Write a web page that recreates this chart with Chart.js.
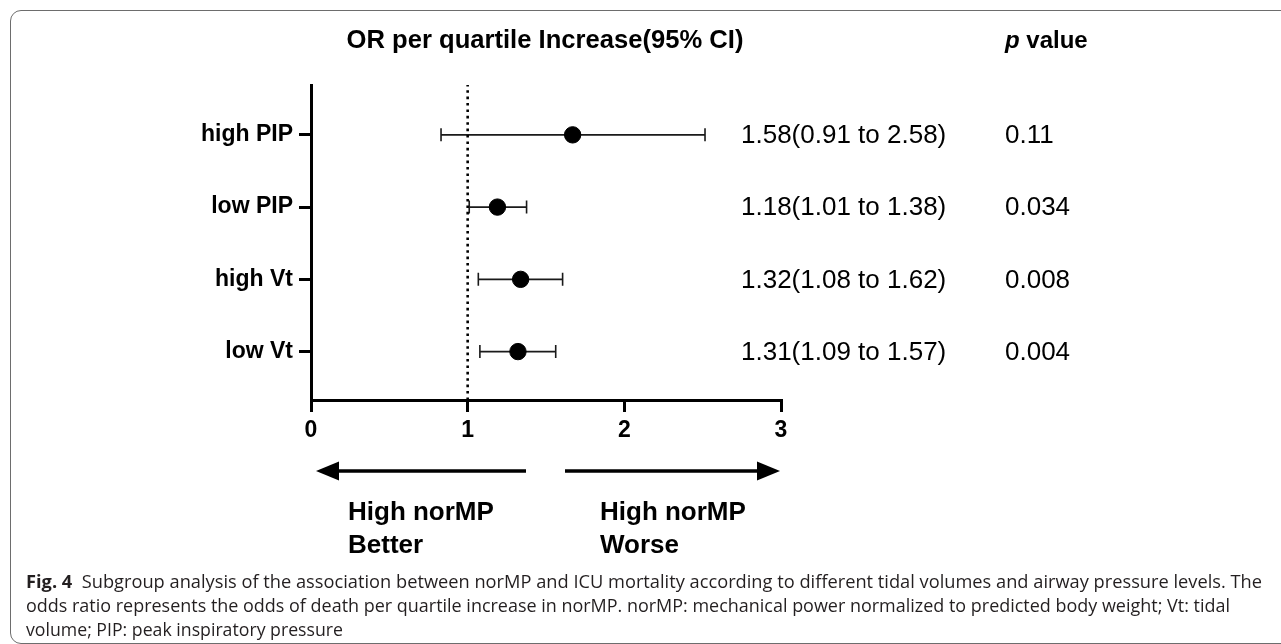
<!DOCTYPE html>
<html><head><meta charset="utf-8">
<script src="https://cdn.jsdelivr.net/npm/chart.js@4"></script>
<style>
html,body{margin:0;padding:0;background:#fff;width:1281px;height:644px;overflow:hidden;}
#frame{position:absolute;left:10px;top:10px;width:1320px;height:634px;border:1.5px solid #6d6d6d;border-radius:11px;box-sizing:border-box;}
#wrap{position:absolute;left:0;top:0;width:1281px;height:644px;}
#caption{position:absolute;left:26px;top:569px;font-family:"Open Sans",sans-serif;font-size:18px;color:#231f20;line-height:24px;}
.cl{white-space:nowrap;height:24px;}
.cl span{display:inline-block;transform-origin:0 50%;white-space:nowrap;}
</style></head>
<body>
<div id="frame"></div>
<div id="wrap"><canvas id="c" width="1281" height="644"></canvas></div>
<div id="caption">
<div class="cl"><span data-w="1236"><b>Fig. 4</b>&nbsp; Subgroup analysis of the association between norMP and ICU mortality according to different tidal volumes and airway pressure levels. The</span></div>
<div class="cl"><span data-w="1204">odds ratio represents the odds of death per quartile increase in norMP. norMP: mechanical power normalized to predicted body weight; Vt: tidal</span></div>
<div class="cl"><span data-w="317">volume; PIP: peak inspiratory pressure</span></div>
</div>
<script>
// ---- data ----
const rowLabels = ['high PIP', 'low PIP', 'high Vt', 'low Vt'];
const rowPos = [4, 3, 2, 1];
const orValues = [1.67, 1.19, 1.338, 1.321];
const ciLower = [0.83, 1.01, 1.068, 1.078];
const ciUpper = [2.515, 1.376, 1.606, 1.562];
const ciText = ['1.58(0.91 to 2.58)', '1.18(1.01 to 1.38)', '1.32(1.08 to 1.62)', '1.31(1.09 to 1.57)'];
const pValues = ['0.11', '0.034', '0.008', '0.004'];
const xTicks = [0, 1, 2, 3];
const refLine = 1;
const titleText = 'OR per quartile Increase(95% CI)';
const leftNote = ['High norMP', 'Better'];
const rightNote = ['High norMP', 'Worse'];

const Y_MIN = 0.33, Y_MAX = 4.69;
const FONT = '"Liberation Sans", Arial, sans-serif';

const errorBars = {
  id: 'errorBars',
  beforeDatasetsDraw(chart) {
    const {ctx, scales: {x, y}} = chart;
    ctx.save();
    ctx.strokeStyle = '#1a1a1a';
    ctx.lineWidth = 1.6;
    rowPos.forEach((r, i) => {
      const py = y.getPixelForValue(r);
      const x0 = x.getPixelForValue(ciLower[i]);
      const x1 = x.getPixelForValue(ciUpper[i]);
      ctx.beginPath();
      ctx.moveTo(x0, py); ctx.lineTo(x1, py);
      ctx.moveTo(x0, py - 6.5); ctx.lineTo(x0, py + 6.5);
      ctx.moveTo(x1, py - 6.5); ctx.lineTo(x1, py + 6.5);
      ctx.stroke();
    });
    ctx.restore();
  }
};

function arrow(ctx, xs, xe, yy) {
  const dir = Math.sign(xe - xs);
  const hl = 23, hh = 9.5;
  ctx.beginPath();
  ctx.moveTo(xs, yy); ctx.lineTo(xe - dir * hl + dir * 2, yy);
  ctx.stroke();
  ctx.beginPath();
  ctx.moveTo(xe, yy);
  ctx.lineTo(xe - dir * hl, yy - hh);
  ctx.lineTo(xe - dir * hl, yy + hh);
  ctx.closePath();
  ctx.fill();
}

const annotations = {
  id: 'annotations',
  afterDraw(chart) {
    const {ctx, scales: {y}} = chart;
    ctx.save();
    ctx.fillStyle = '#000';
    ctx.strokeStyle = '#000';
    ctx.textBaseline = 'middle';
    // title
    ctx.font = 'bold 25.6px ' + FONT;
    ctx.textAlign = 'center';
    ctx.fillText(titleText, 545, 41);
    // p value header
    ctx.textAlign = 'left';
    ctx.font = 'italic bold 24px ' + FONT;
    ctx.fillText('p', 1005, 41);
    const pw = ctx.measureText('p').width;
    ctx.font = 'bold 24px ' + FONT;
    ctx.fillText(' value', 1005 + pw, 41);
    // CI texts and p values
    ctx.font = '26px ' + FONT;
    rowPos.forEach((r, i) => {
      const py = y.getPixelForValue(r);
      ctx.fillText(ciText[i], 741, py + 1);
      ctx.fillText(pValues[i], 1005, py + 1);
    });
    // arrows
    ctx.lineWidth = 3.5;
    arrow(ctx, 526, 316, 471);
    arrow(ctx, 565, 780, 471);
    // notes
    ctx.font = 'bold 26px ' + FONT;
    ctx.fillText(leftNote[0], 348, 513);
    ctx.fillText(leftNote[1], 348, 546);
    ctx.fillText(rightNote[0], 600, 513);
    ctx.fillText(rightNote[1], 600, 546);
    ctx.restore();
  }
};

new Chart(document.getElementById('c'), {
  type: 'scatter',
  data: {
    datasets: [
      {
        type: 'line', label: 'ref',
        data: [{x: refLine, y: Y_MIN}, {x: refLine, y: Y_MAX}],
        borderColor: '#000', borderWidth: 2.6, borderDash: [2.6, 3.8],
        pointRadius: 0, fill: false, order: 2
      },
      {
        label: 'OR',
        data: orValues.map((v, i) => ({x: v, y: rowPos[i]})),
        backgroundColor: '#000', borderColor: '#000',
        pointRadius: 8.2, pointHoverRadius: 8.2, order: 0
      }
    ]
  },
  options: {
    animation: false, responsive: false, events: [],
    layout: {padding: {left: 0, right: 500, top: 85, bottom: 184}},
    plugins: {legend: {display: false}, tooltip: {enabled: false}},
    scales: {
      x: {
        type: 'linear', min: 0, max: 3,
        afterBuildTicks: s => { s.ticks = xTicks.map(v => ({value: v})); },
        ticks: {font: {family: FONT, weight: 'bold', size: 23}, color: '#000', padding: 5},
        grid: {drawOnChartArea: false, drawTicks: true, tickLength: 12, color: '#000', lineWidth: 3},
        border: {color: '#000', width: 3},
        afterFit: s => { s.height = 60; }
      },
      y: {
        type: 'linear', min: Y_MIN, max: Y_MAX,
        afterBuildTicks: s => { s.ticks = rowPos.map(v => ({value: v})); },
        ticks: {
          callback: v => rowLabels[rowPos.indexOf(v)],
          font: {family: FONT, weight: 'bold', size: 23}, color: '#000', padding: 6
        },
        grid: {drawOnChartArea: false, drawTicks: true, tickLength: 12, color: '#000', lineWidth: 3},
        border: {color: '#000', width: 3},
        afterFit: s => { s.width = 311; }
      }
    }
  },
  plugins: [errorBars, annotations]
});

function fitCaption() {
  document.querySelectorAll('#caption .cl span').forEach(sp => {
    sp.style.transform = 'none';
    const w = sp.getBoundingClientRect().width;
    const t = parseFloat(sp.dataset.w);
    sp.style.transform = 'scaleX(' + (t / w) + ')';
  });
}
fitCaption();
if (document.fonts && document.fonts.ready) document.fonts.ready.then(fitCaption);
</script>
</body></html>
